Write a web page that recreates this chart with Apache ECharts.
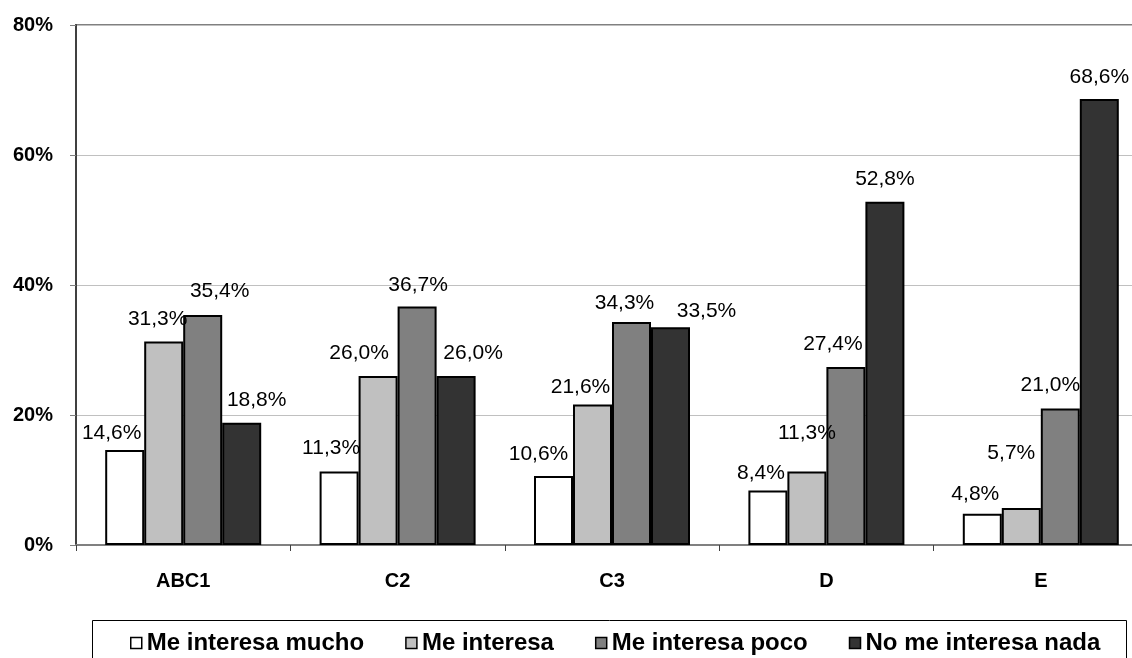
<!DOCTYPE html>
<html>
<head>
<meta charset="utf-8">
<script src="https://cdn.jsdelivr.net/npm/echarts@6/dist/echarts.min.js"></script>
<style>
  html, body { margin: 0; padding: 0; background: #fff; overflow: hidden; }
  #chart { width: 1150px; height: 658px; }
</style>
</head>
<body>
<div id="chart"></div>
<script>
// ---- data ----
const categories = ['ABC1', 'C2', 'C3', 'D', 'E'];
const seriesNames = ['Me interesa mucho', 'Me interesa', 'Me interesa poco', 'No me interesa nada'];
const muchoValues    = [14.6, 11.3, 10.6, 8.4, 4.8];
const interesaValues = [31.3, 26.0, 21.6, 11.3, 5.7];
const pocoValues     = [35.4, 36.7, 34.3, 27.4, 21.0];
const nadaValues     = [18.8, 26.0, 33.5, 52.8, 68.6];
const yTickValues    = [0, 20, 40, 60, 80];

// ---- styling (kept apart from data) ----
const seriesColors = ['#ffffff', '#c0c0c0', '#808080', '#333333'];
// manual label nudges [dx, dy] per series / category, as in the original
const labelNudges = [
  [[-13, 5], [-8, -1], [-15, 0], [-7, 5], [-7, 2]],
  [[-6, 0], [-19, -1], [-12, 5], [0, -16], [-10, -33]],
  [[17, -2], [1, 1], [-7, 3], [-13, -1], [-10, -1]],
  [[15, -1], [17, -1], [36, 6], [0, -1], [0, 0]]
];

const FONT = '"Liberation Sans", Arial, Helvetica, sans-serif';
const allValues = [muchoValues, interesaValues, pocoValues, nadaValues];

function fmt(v) {
  return v.toFixed(1).replace('.', ',') + '%';
}

const series = allValues.map(function (vals, si) {
  return {
    name: seriesNames[si],
    type: 'bar',
    barWidth: 39,
    barGap: '0%',
    itemStyle: { color: seriesColors[si], borderColor: '#000', borderWidth: 2 },
    label: {
      show: true,
      position: 'top',
      distance: 12,
      color: '#000',
      fontFamily: FONT,
      fontSize: 21,
      lineHeight: 20,
      formatter: function (p) { return fmt(p.value); }
    },
    emphasis: { disabled: true },
    data: vals.map(function (v, ci) {
      return { value: v, label: { offset: labelNudges[si][ci] } };
    })
  };
});

const chart = echarts.init(document.getElementById('chart'), null, { renderer: 'canvas' });
chart.setOption({
  animation: false,
  backgroundColor: '#fff',
  grid: {
    left: 76, top: 25, width: 1072, height: 520,
    show: true, borderColor: '#808080', borderWidth: 2, backgroundColor: 'transparent'
  },
  legend: {
    data: seriesNames,
    left: 130,
    top: 631,
    padding: 0,
    itemWidth: 11,
    itemHeight: 11,
    itemGap: 41,
    icon: 'rect',
    itemStyle: { borderColor: '#000', borderWidth: 1.5 },
    textStyle: { fontFamily: FONT, fontSize: 24, fontWeight: 'bold', color: '#000' },
    selectedMode: false
  },
  graphic: [{
    type: 'rect',
    shape: { x: 92.5, y: 620.5, width: 1034, height: 60 },
    style: { fill: 'none', stroke: '#000', lineWidth: 1 },
    silent: true
  }],
  xAxis: {
    type: 'category',
    data: categories,
    axisLine: { show: true, lineStyle: { color: '#808080', width: 2 } },
    axisTick: { show: true, length: 6, lineStyle: { color: '#404040', width: 1 } },
    axisLabel: { margin: 26, color: '#000', fontFamily: FONT, fontSize: 20, fontWeight: 'bold' },
    splitLine: { show: false }
  },
  yAxis: {
    type: 'value',
    min: yTickValues[0],
    max: yTickValues[yTickValues.length - 1],
    interval: 20,
    axisLine: { show: true, lineStyle: { color: '#404040', width: 2 } },
    axisTick: { show: true, length: 6, lineStyle: { color: '#808080', width: 1 } },
    axisLabel: {
      margin: 23, color: '#000', fontFamily: FONT, fontSize: 20, fontWeight: 'bold',
      formatter: '{value}%'
    },
    splitLine: { show: true, lineStyle: { color: '#c0c0c0', width: 1 } }
  },
  series: series
});
</script>
</body>
</html>
